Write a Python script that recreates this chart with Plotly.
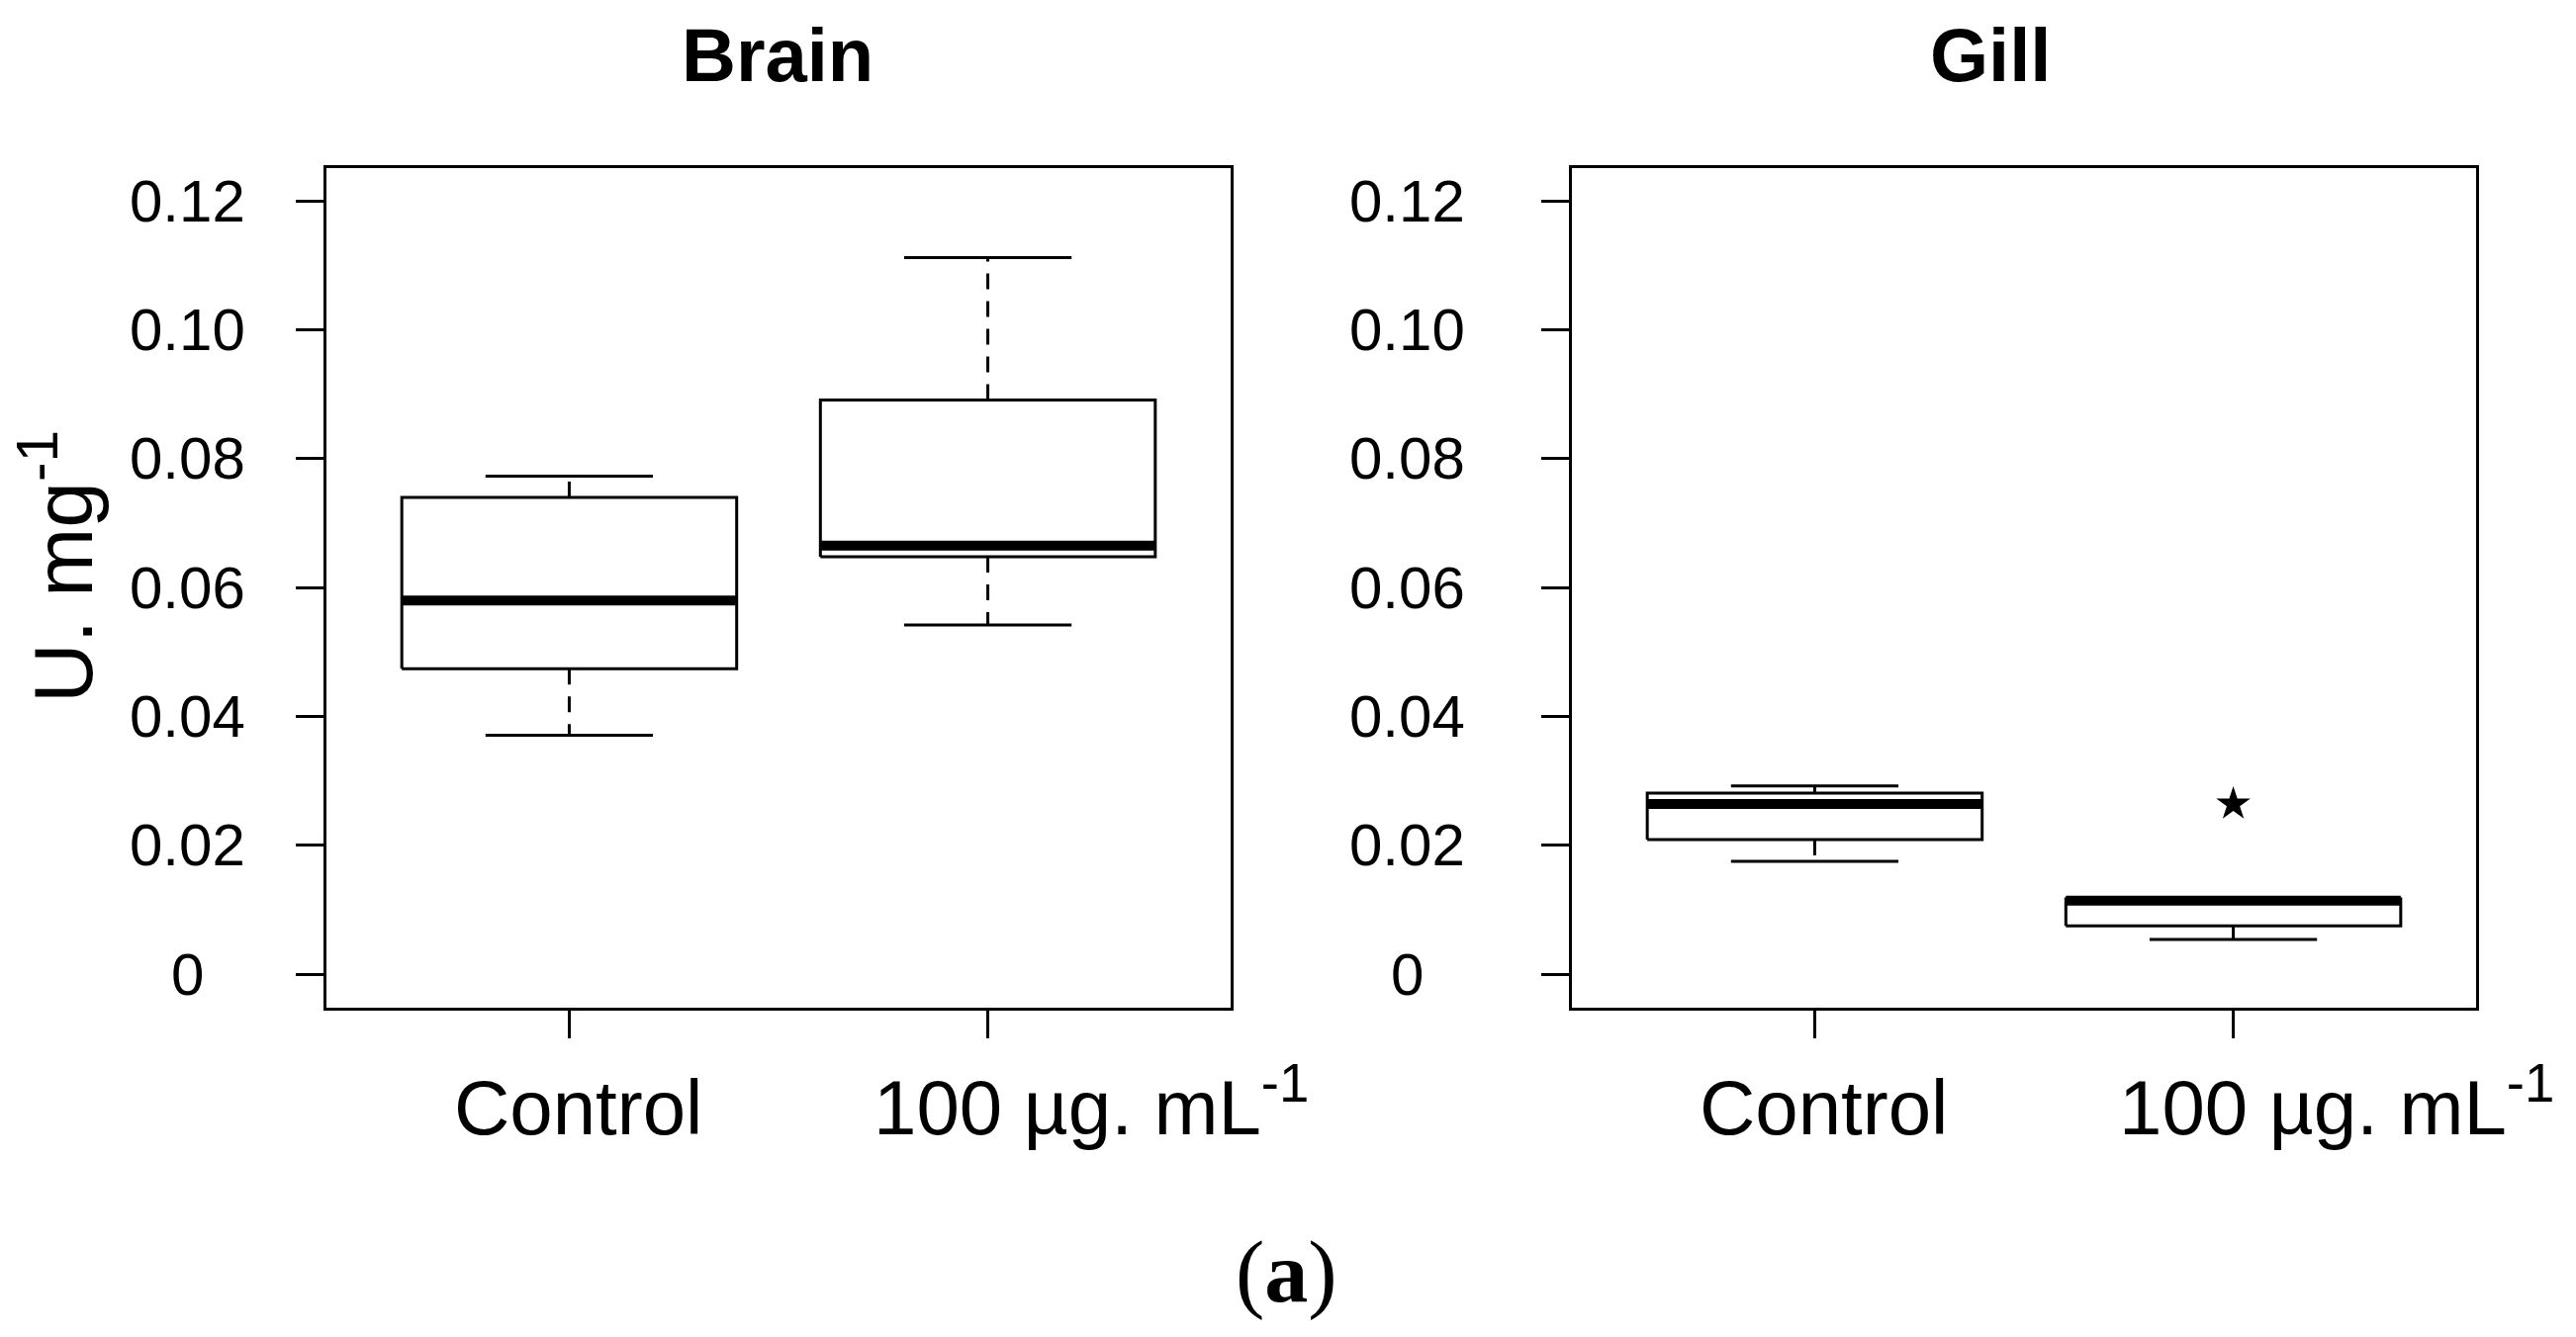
import plotly.graph_objects as go
from plotly.subplots import make_subplots

# box statistics (U. mg-1)
groups = ['Control', '100 µg. mL<sup>-1</sup>']
group_pos = [1, 2]

brain_lower = [0.0371, 0.0542]
brain_q1 = [0.0474, 0.0648]
brain_median = [0.0580, 0.0665]
brain_q3 = [0.0740, 0.0891]
brain_upper = [0.0773, 0.1112]
brain_outliers = [[], []]

gill_lower = [0.0175, 0.0054]
gill_q1 = [0.0209, 0.0075]
gill_median = [0.0264, 0.0114]
gill_q3 = [0.0281, 0.0117]
gill_upper = [0.0292, 0.0117]
gill_outliers = [[], [0.0264]]

y_ticks = [0, 0.02, 0.04, 0.06, 0.08, 0.10, 0.12]
y_tick_labels = ['0', '0.02', '0.04', '0.06', '0.08', '0.10', '0.12']

W, H = 2604, 1352
PAD = 8  # page body margin
FW, FH = W - 2 * PAD, H - 2 * PAD
SANS = 'Liberation Sans, Arial, sans-serif'
SERIF = 'Liberation Serif, Times New Roman, serif'
boxwex = 0.8


def px(x):
    return (x - PAD) / FW


def py(y):
    return 1 - (y - PAD) / FH


fig = make_subplots(rows=1, cols=2)


def add_boxes(col, lower, q1, med, q3, upper, outliers):
    hw = boxwex / 2
    cw = hw / 2
    for i, xc in enumerate(group_pos):
        # whiskers (dashed)
        fig.add_trace(go.Scatter(x=[xc, xc, None, xc, xc],
                                 y=[q3[i], upper[i], None, q1[i], lower[i]],
                                 mode='lines', line=dict(color='black', width=3, dash='16px,12px'),
                                 showlegend=False, hoverinfo='skip'), row=1, col=col)
        # staples
        fig.add_trace(go.Scatter(x=[xc - cw, xc + cw, None, xc - cw, xc + cw],
                                 y=[upper[i], upper[i], None, lower[i], lower[i]],
                                 mode='lines', line=dict(color='black', width=3),
                                 showlegend=False, hoverinfo='skip'), row=1, col=col)
        # box
        fig.add_trace(go.Scatter(x=[xc - hw, xc + hw, xc + hw, xc - hw, xc - hw],
                                 y=[q1[i], q1[i], q3[i], q3[i], q1[i]],
                                 mode='lines', line=dict(color='black', width=3),
                                 fill='toself', fillcolor='white',
                                 showlegend=False, hoverinfo='skip'), row=1, col=col)
        # median
        fig.add_trace(go.Scatter(x=[xc - hw, xc + hw], y=[med[i], med[i]],
                                 mode='lines', line=dict(color='black', width=10),
                                 showlegend=False, hoverinfo='skip'), row=1, col=col)
        if outliers[i]:
            fig.add_trace(go.Scatter(x=[xc] * len(outliers[i]), y=outliers[i], mode='markers',
                                     marker=dict(symbol='star', size=26, color='black'),
                                     showlegend=False), row=1, col=col)


add_boxes(1, brain_lower, brain_q1, brain_median, brain_q3, brain_upper, brain_outliers)
add_boxes(2, gill_lower, gill_q1, gill_median, gill_q3, gill_upper, gill_outliers)

ax = dict(showline=True, linewidth=3, linecolor='black', mirror=True,
          ticks='outside', ticklen=28, tickwidth=3, tickcolor='black',
          showgrid=False, zeroline=False, showticklabels=False)

x_dom = [[px(330), px(1244)], [px(1589), px(2503)]]
y_dom = [py(1019), py(170)]
for c in (1, 2):
    fig.update_xaxes(ax, range=[0.42, 2.58], tickvals=group_pos, domain=x_dom[c - 1], row=1, col=c)
    fig.update_yaxes(ax, range=[-0.0052, 0.1251], tickvals=y_ticks, domain=y_dom, row=1, col=c)

ann = []
# y tick labels, centred like the R output
for c, xc in ((1, 189), (2, 1422)):
    yref = 'y' if c == 1 else 'y2'
    for v, t in zip(y_ticks, y_tick_labels):
        ann.append(dict(x=px(xc), xref='paper', y=v, yref=yref, text=t, showarrow=False,
                        xanchor='center', yanchor='middle', font=dict(family=SANS, size=60, color='black')))
# group labels
for c in (1, 2):
    xref = 'x' if c == 1 else 'x2'
    for p, g in zip(group_pos, groups):
        ann.append(dict(x=p, xref=xref, xshift=-118, y=py(1166), yref='paper', text=g,
                        showarrow=False, xanchor='left', yanchor='bottom',
                        font=dict(family=SANS, size=78, color='black')))
# panel titles
for xc, t in ((786, 'Brain'), (2012, 'Gill')):
    ann.append(dict(x=px(xc), xref='paper', y=py(100), yref='paper', text='<b>%s</b>' % t,
                    showarrow=False, xanchor='center', yanchor='bottom',
                    font=dict(family=SANS, size=76, color='black')))
# y axis title
ann.append(dict(x=px(58), xref='paper', y=py(573), yref='paper', text='U. mg<sup>-1</sup>',
                textangle=-90, showarrow=False, xanchor='center', yanchor='middle',
                font=dict(family=SANS, size=84, color='black')))
# panel letter
ann.append(dict(x=px(1300), xref='paper', y=py(1337), yref='paper', text='(<b>a</b>)',
                showarrow=False, xanchor='center', yanchor='bottom',
                font=dict(family=SERIF, size=88, color='black')))

fig.update_layout(width=FW, height=FH, margin=dict(l=0, r=0, t=0, b=0),
                  paper_bgcolor='white', plot_bgcolor='white', annotations=ann)

fig.write_html('out.html')
